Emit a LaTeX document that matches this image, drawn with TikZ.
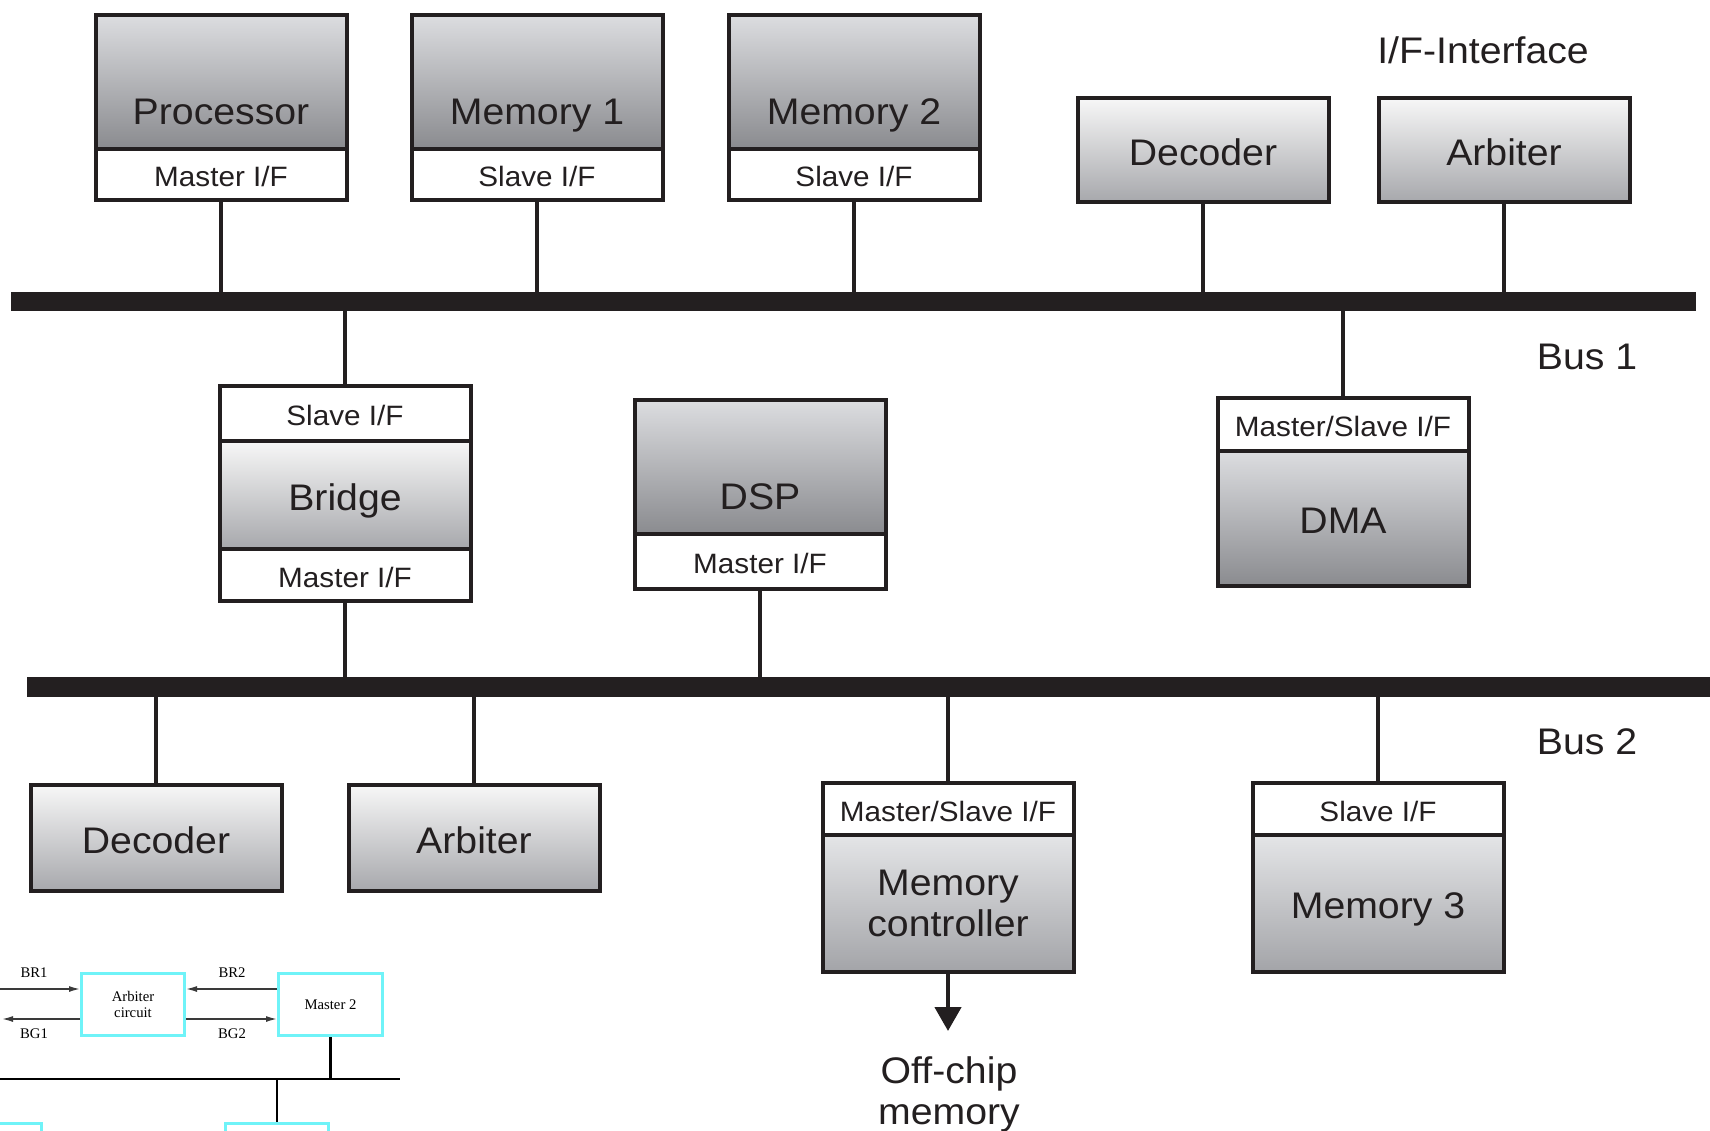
\documentclass[tikz,border=0pt]{standalone}
\usepackage{fontspec}
\setmainfont{Liberation Sans}[FakeStretch=1.06]
\newfontfamily\tms{Liberation Serif}
\usetikzlibrary{arrows.meta}

\definecolor{ink}{HTML}{231F20}
\definecolor{dunkelOben}{HTML}{DCDDE0}
\definecolor{dunkelUnten}{HTML}{8A8B8F}
\definecolor{mittelOben}{HTML}{E4E5E7}
\definecolor{mittelUnten}{HTML}{A3A4A8}
\definecolor{hellOben}{HTML}{F7F7F7}
\definecolor{hellUnten}{HTML}{A7A8AC}
\definecolor{cyanrand}{HTML}{6FF3F8}
\definecolor{pfeilgrau}{HTML}{3A3A3A}

\begin{document}
\begin{tikzpicture}[x=1pt,y=-1pt,
        box/.style={draw=ink,line width=4pt,minimum width=251pt,inner sep=0pt,text=ink,font=\fontsize{37}{41}\selectfont},
        dunkel/.style={box,top color=dunkelOben,bottom color=dunkelUnten},
        mittel/.style={box,top color=mittelOben,bottom color=mittelUnten},
        hell/.style={box,top color=hellOben,bottom color=hellUnten},
        ifc/.style={box,fill=white,font=\fontsize{28}{30}\selectfont,text height=24pt,text depth=0pt},
        mitte/.style={text height=30pt,text depth=0pt},
        tief/.style={text height=84pt,text depth=0pt},
        draht/.style={draw=ink,line width=4.5pt},
        bus/.style={fill=ink,inner sep=0pt},
        lbl/.style={text=ink,font=\fontsize{37}{41}\selectfont,align=center},
        cbox/.style={draw=cyanrand,line width=3pt,minimum width=103pt,minimum height=62pt,inner sep=0pt,align=center},
        pfeil/.style={draw=pfeilgrau,line width=1.5pt,-{Latex[length=11pt,width=6pt]}},
        sbus/.style={draw=black,line width=2.5pt}]
        \useasboundingbox (0,0) rectangle (1710,1130);
        \clip (0,0) rectangle (1710,1130);

        % Busse
        \node[bus,minimum width=1685pt,minimum height=19pt] (bus1) at (853.5,301.5) {};
        \node[bus,minimum width=1693pt,minimum height=20pt] (bus2) at (873.5,687) {};
        \node[lbl] (bus1lbl) at (1587,357) {Bus 1};
        \node[lbl] (bus2lbl) at (1587,742) {Bus 2};
        \node[lbl] (iflbl) at (1483,50) {I/F-Interface};

        % Processor, Memory 1, Memory 2
        \foreach \n/\x/\t/\i in {proc/221/Processor/Master, mem1/537/Memory 1/Slave, mem2/854/Memory 2/Slave} {
            \node[dunkel,tief,minimum height=134pt] (\n) at (\x,82) {\t};
            \node[ifc,minimum height=51pt] (\n-if) at (\x,174.5) {\i\ I/F};
            \draw[draht] (\n-if.south) -- (\n-if.south |- bus1.north);
        }

        % Decoder und Arbiter an Bus 1
        \foreach \n/\x/\t in {dec1/1203/Decoder, arb1/1504/Arbiter} {
            \node[hell,mitte,minimum height=104pt] (\n) at (\x,150) {\t};
            \draw[draht] (\n.south) -- (\n.south |- bus1.north);
        }

        % Bridge
        \node[ifc,minimum height=55pt] (br-s) at (345,413.5) {Slave I/F};
        \node[hell,mitte,minimum height=108pt] (br) at (345,495) {Bridge};
        \node[ifc,minimum height=52pt] (br-m) at (345,575) {Master I/F};
        \draw[draht] (bus1.south -| br-s.north) -- (br-s.north);
        \draw[draht] (br-m.south) -- (br-m.south |- bus2.north);

        % DSP
        \node[dunkel,tief,minimum height=134pt] (dsp) at (760,467) {DSP};
        \node[ifc,minimum height=55pt] (dsp-if) at (760,561.5) {Master I/F};
        \draw[draht] (dsp-if.south) -- (dsp-if.south |- bus2.north);

        % DMA
        \node[ifc,minimum height=53pt] (dma-if) at (1343,424.5) {Master/Slave I/F};
        \node[dunkel,mitte,minimum height=135pt] (dma) at (1343,518.5) {DMA};
        \draw[draht] (bus1.south -| dma-if.north) -- (dma-if.north);

        % Decoder und Arbiter an Bus 2
        \foreach \n/\x/\t in {dec2/156/Decoder, arb2/474/Arbiter} {
            \node[hell,mitte,minimum height=106pt] (\n) at (\x,838) {\t};
            \draw[draht] (bus2.south -| \n.north) -- (\n.north);
        }

        % Memory controller und Memory 3
        \node[ifc,minimum height=52pt] (mc-if) at (948,809) {Master/Slave I/F};
        \node[mittel,align=center,minimum height=137pt] (mc) at (948,903.5) {Memory\\controller};
        \node[ifc,minimum height=52pt] (mem3-if) at (1378,809) {Slave I/F};
        \node[mittel,mitte,minimum height=137pt] (mem3) at (1378,903.5) {Memory 3};
        \draw[draht] (bus2.south -| mc-if.north) -- (mc-if.north);
        \draw[draht] (bus2.south -| mem3-if.north) -- (mem3-if.north);

        % Off-chip
        \node[lbl] (offchip) at (949,1094) {Off-chip\\memory};
        \coordinate (spitze) at (948,1031);
        \draw[draht,-{Triangle[width=26pt,length=24pt]}] (mc.south) -- (mc.south |- spitze);

        % Arbiter-Schaltung
        \begin{scope}[font=\tms\fontsize{14.7}{16.5}\selectfont]
            \node[cbox] (arbc) at (133,1004.5) {Arbiter\\circuit};
            \node[cbox,minimum width=104pt] (m2) at (330.5,1004.5) {Master 2};
            \node[cbox] (sl1) at (-10,1154.5) {};
            \node[cbox] (sl2) at (277,1154.5) {};

            \coordinate (br1-start) at (-10,989);
            \coordinate (bg1-ende) at (2,1019);
            \draw[pfeil] (br1-start) -- ([yshift=15.5pt]arbc.west);
            \draw[pfeil] ([yshift=-14.5pt]arbc.west) -- (bg1-ende);
            \draw[pfeil] ([yshift=15.5pt]m2.west) -- ([yshift=15.5pt]arbc.east);
            \draw[pfeil] ([yshift=-14.5pt]arbc.east) -- ([yshift=-14.5pt]m2.west);

            \node (br1) at (34,973) {BR1};
            \node (bg1) at (34,1034) {BG1};
            \node (br2) at (232,973) {BR2};
            \node (bg2) at (232,1034) {BG2};

            \coordinate (sbus-l) at (-5,1079);
            \coordinate (sbus-r) at (400,1079);
            \draw[sbus] (sbus-l) -- (sbus-r);
            \draw[sbus] (m2.south) -- (m2.south |- sbus-r);
            \draw[sbus] (sbus-l -| sl2.north) -- (sl2.north);
        \end{scope}
    \end{tikzpicture}
\end{document}
